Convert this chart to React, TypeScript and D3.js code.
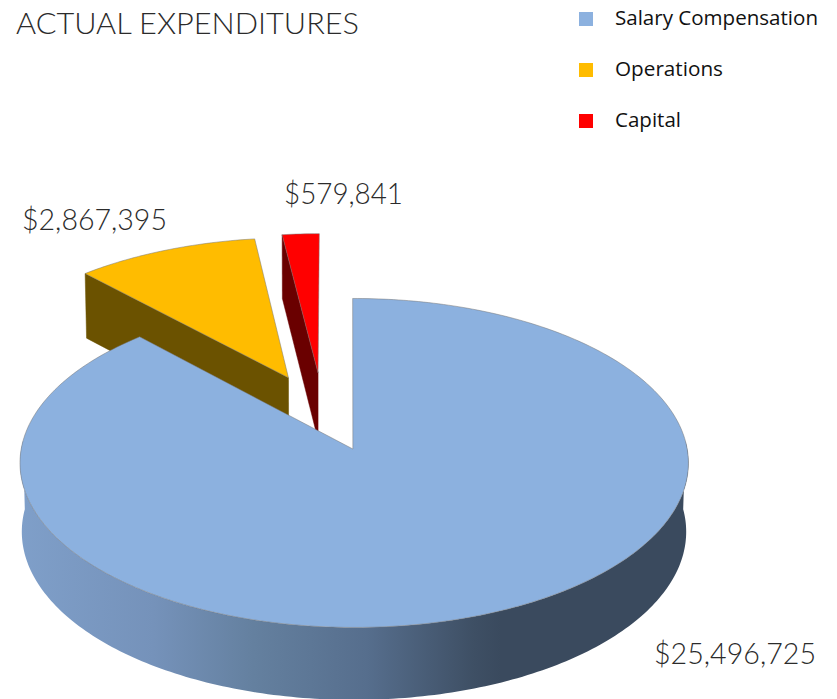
import React from "react";
import * as d3 from "d3";

const categories = ["Salary Compensation", "Operations", "Capital"];
const values = [25496725, 2867395, 579841];
const valueLabels = ["$25,496,725", "$2,867,395", "$579,841"];
const colors = ["#8CB1DF", "#FFBC00", "#FF0000"];
const sideColors = ["url(#wall)", "#6B5200", "#6A0000"];
const explode: [number, number][] = [[0, 0], [-0.205, 0.453], [-0.113, 0.485]];
const labelPos: [number, number, number][] = [[654, 664, 162], [22, 230, 145], [284, 204, 119]];

const C = 28 / 330;
const project = (u: number, v: number, a: number, b: number, A: number, cx: number): [number, number] => {
  const w = 1 + C * v;
  return [cx + (A * u) / w, (a * v + b) / w];
};
const top = (u: number, v: number) => project(u, v, -125.2, 449, 333, 354.2);
const bottom = (u: number, v: number) => project(u, v, -123, 517.5, 331, 354);

const line = d3.line();
const arcs = d3.pie<number>().sort(null).startAngle(-0.005).endAngle(2 * Math.PI - 0.005)(values);

function rim(s: number, e: number, d: [number, number], proj: typeof top) {
  const n = Math.max(2, Math.ceil((e - s) * 60));
  return d3.range(n + 1).map((i) => {
    const t = s + ((e - s) * i) / n;
    return proj(d[0] + Math.sin(t), d[1] + Math.cos(t));
  });
}

export default function App() {
  const ordered = [1, 2, 0];
  return (
    <svg width={837} height={699} style={{ position: "absolute", left: 0, top: 0 }}>
      <defs>
        <linearGradient id="wall" gradientUnits="userSpaceOnUse" x1={20} x2={688} y1={0} y2={0}>
          <stop offset="0" stopColor="#7F9FC9" />
          <stop offset="0.2" stopColor="#7592BA" />
          <stop offset="0.35" stopColor="#64809F" />
          <stop offset="0.52" stopColor="#566E8D" />
          <stop offset="0.68" stopColor="#3E4F64" />
          <stop offset="0.72" stopColor="#3A4A5E" />
          <stop offset="1" stopColor="#3A4A5E" />
        </linearGradient>
      </defs>
      <text x={16} y={33.5} fontFamily="Lato" fontWeight={300} fontSize={30} fill="#2b2b2b" textLength={343} lengthAdjust="spacingAndGlyphs">
        ACTUAL EXPENDITURES
      </text>
      {categories.map((c, i) => (
        <g key={c}>
          <rect x={579} y={12 + i * 51} width={14} height={14} fill={colors[i]} />
          <text x={615} y={25 + i * 51} fontFamily="'Open Sans'" fontSize={19.5} fill="#111" textLength={[203, 108, 66][i]} lengthAdjust="spacingAndGlyphs">
            {c}
          </text>
        </g>
      ))}
      {ordered.map((i) => {
        const a = arcs[i];
        const d = explode[i];
        const topRim = rim(a.startAngle, a.endAngle, d, top);
        const botRim = rim(a.startAngle, a.endAngle, d, bottom);
        const apexT = i === 0 ? top(d[0] - 0.004, d[1]) : top(d[0], d[1]);
        const apexB = bottom(d[0], d[1]);
        let side: [number, number][];
        if (i === 0) {
          // Outer wall of the large slice: from the far right round to the far left.
          const sw = Math.PI / 2 - 0.05;
          const ew = (3 * Math.PI) / 2 + 0.05;
          side = [...rim(sw, ew, d, top), ...rim(sw, ew, d, bottom).reverse()];
        } else {
          side = [topRim[0], apexT, apexB, botRim[0]];
        }
        return (
          <g key={i}>
            <path d={line(side) + "Z"} fill={sideColors[i]} stroke={i === 0 ? "none" : sideColors[i]} strokeWidth={0.5} />
            <path d={line([apexT, ...topRim]) + "Z"} fill={colors[i]} stroke="#777" strokeWidth={0.5} strokeLinejoin="round" />
          </g>
        );
      })}
      {valueLabels.map((l, i) => (
        <text key={l} x={labelPos[i][0]} y={labelPos[i][1]} fontFamily="Lato" fontWeight={300} fontSize={29} fill="#2b2b2b" textLength={labelPos[i][2]} lengthAdjust="spacingAndGlyphs">
          {l}
        </text>
      ))}
    </svg>
  );
}
